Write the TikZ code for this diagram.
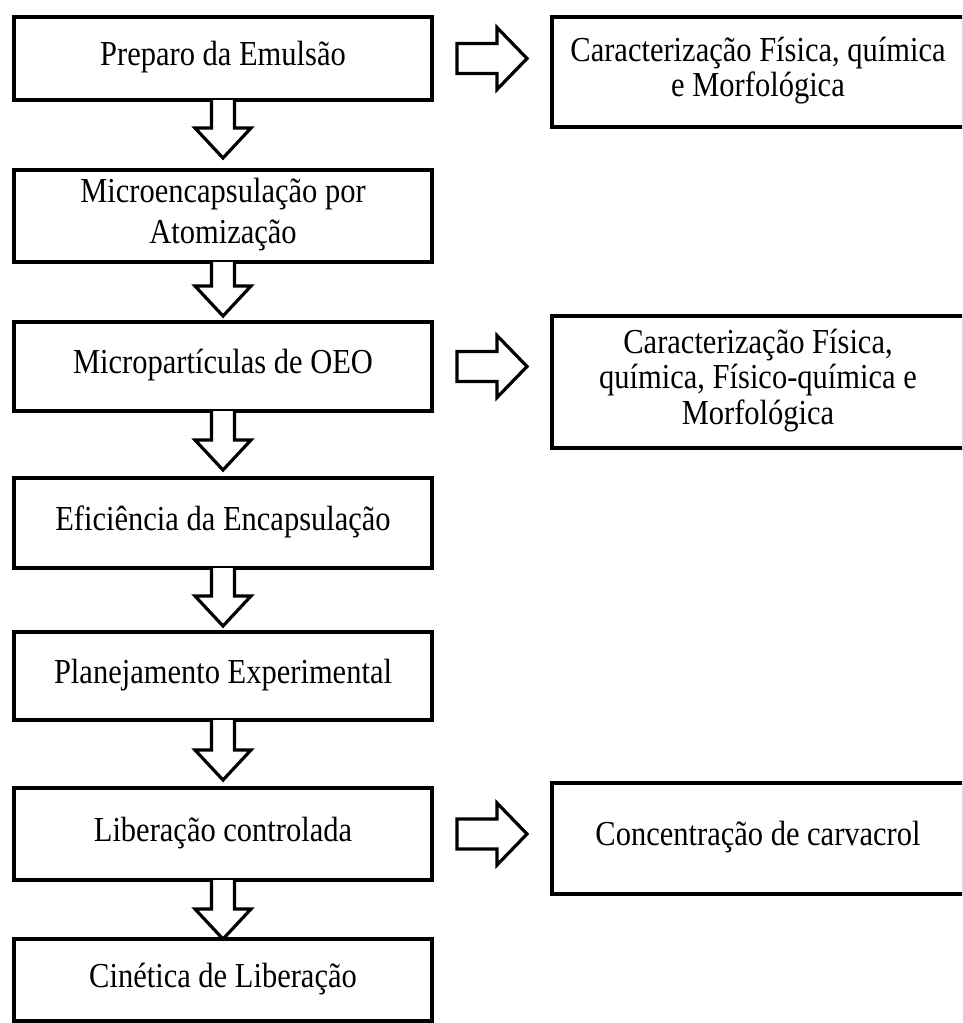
\documentclass[tikz,border=0pt]{standalone}
\usepackage{fontspec}
\setmainfont{Liberation Serif}
\usetikzlibrary{calc}
\newcommand{\tallt}[1]{\raisebox{-3pt}{\scalebox{1}[1.15]{\begin{tabular}{@{}c@{}}#1\end{tabular}}}}
\tikzset{
  box/.style={draw, line width=3.8pt, fill=white, inner sep=0pt, outer sep=0pt,
    align=center, font=\fontsize{30.5}{30.5}\selectfont},
  lbox/.style={box, minimum width=418pt},
  rbox/.style={box, minimum width=412pt},
  blk/.style={draw, line width=3.2pt, line join=miter, fill=white}
}
\begin{document}
\begin{tikzpicture}[x=1pt,y=-1pt]
\useasboundingbox (0,0) rectangle (962,1023);
\fill[white] (0,0) rectangle (962,1023);
\clip (0,0) rectangle (962,1023);
% left column
\node[lbox, minimum height=83pt] (b1) at (223,58.5) {\tallt{Preparo da Emulsão}};
\node[lbox, minimum height=92pt] (b2) at (223,216) {\tallt{Microencapsulação por\\[5pt]Atomização}};
\node[lbox, minimum height=89pt] (b3) at (223,366.5) {\tallt{Micropartículas de OEO}};
\node[lbox, minimum height=90pt] (b4) at (223,523) {\tallt{Eficiência da Encapsulação}};
\node[lbox, minimum height=88pt] (b5) at (223,676) {\tallt{Planejamento Experimental}};
\node[lbox, minimum height=92pt] (b6) at (223,834) {\tallt{Liberação controlada}};
\node[lbox, minimum height=82pt] (b7) at (223,980) {\tallt{Cinética de Liberação}};
% right column
\node[rbox, minimum height=110pt] (r1) at (758,72) {\tallt{Caracterização Física, química\\e Morfológica}};
\node[rbox, minimum height=132pt] (r2) at (758,382) {\tallt{Caracterização Física,\\química, Físico-química e\\Morfológica}};
\node[rbox, minimum height=111pt] (r3) at (758,838.5) {\tallt{Concentração de carvacrol}};
% tips of the down arrows
\coordinate (t1) at (223,158);
\coordinate (t2) at (223,316);
\coordinate (t3) at (223,470);
\coordinate (t4) at (223,626);
\coordinate (t5) at (223,780);
\coordinate (t6) at (223,939);
\foreach \a/\t in {b1/t1,b2/t2,b3/t3,b4/t4,b5/t5,b6/t6}{
  \draw[blk] ($(\a.south)+(-11.5,0)$) |- ($(\t)+(-28,-30)$) -- (\t)
     -- ($(\t)+(28,-30)$) -| ($(\a.south)+(11.5,0)$);
}
% right arrows
\foreach \a/\r in {b1/r1,b3/r2,b6/r3}{
  \coordinate (s) at ($(\a.east)+(25,0)$);
  \draw[blk] ($(s)+(0,-15)$) -- ($(s)+(40,-15)$) -- ($(s)+(40,-31)$)
     -- ($(s)+(70,0)$) -- ($(s)+(40,31)$) -- ($(s)+(40,15)$)
     -- ($(s)+(0,15)$) -- cycle;
}
\end{tikzpicture}
\end{document}
